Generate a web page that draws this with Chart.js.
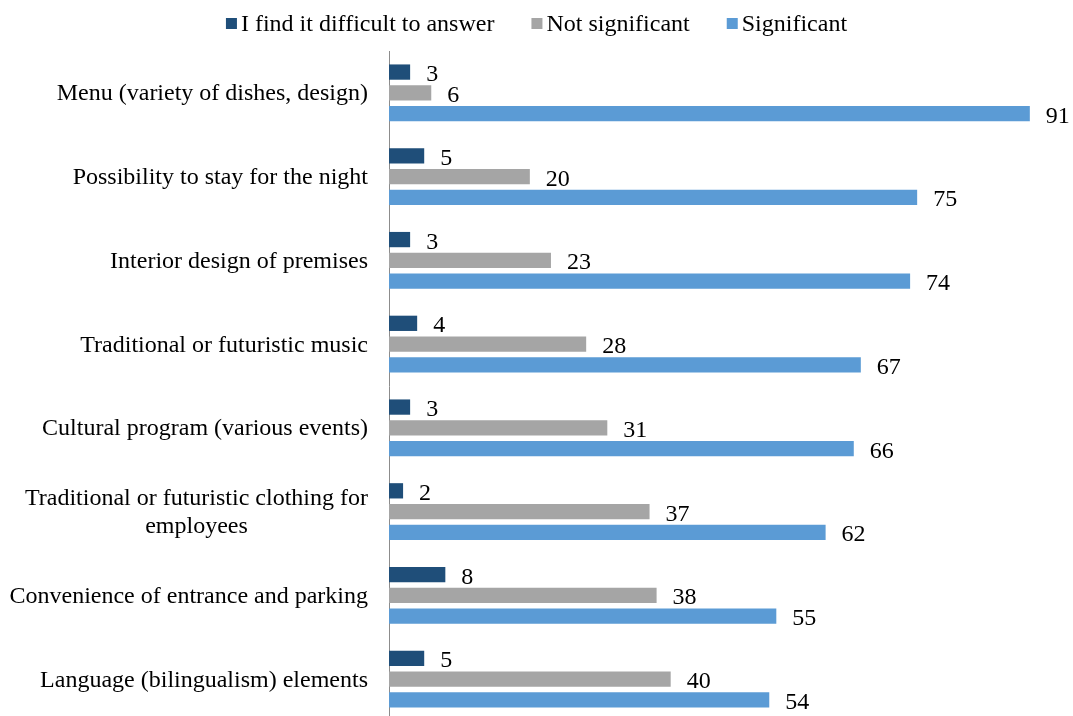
<!DOCTYPE html>
<html lang="en">
<head>
  <meta charset="UTF-8" />
  <title>Significance of restaurant features</title>
  <script src="https://cdn.jsdelivr.net/npm/chart.js"></script>
  <style>
    html, body { margin: 0; padding: 0; background: #fff; overflow: hidden; }
    .wrap { position: relative; width: 1073px; height: 722px; }
  </style>
</head>
<body>
  <div class="wrap"><canvas id="chart"></canvas></div>
  <script>
    const categories = [
      'Menu (variety of dishes, design)',
      'Possibility to stay for the night',
      'Interior design of premises',
      'Traditional or futuristic music',
      'Cultural program (various events)',
      ['Traditional or futuristic clothing for', 'employees'],
      'Convenience of entrance and parking',
      'Language (bilingualism) elements'
    ]
    const difficult = [3, 5, 3, 4, 3, 2, 8, 5]
    const notSignificant = [6, 20, 23, 28, 31, 37, 38, 40]
    const significant = [91, 75, 74, 67, 66, 62, 55, 54]
    const seriesNames = ['I find it difficult to answer', 'Not significant', 'Significant']
    const seriesColors = ['#1f4e79', '#a5a5a5', '#5b9bd5']

    const FONT = '"Liberation Serif", "Times New Roman", serif'

    // category names, right aligned against the axis; wrapped lines centred on each other
    const categoryLabels = {
      id: 'categoryLabels',
      afterDraw(chart) {
        const { ctx, chartArea } = chart
        const y = chart.scales.y
        ctx.save()
        ctx.font = '24px ' + FONT
        ctx.fillStyle = '#000'
        ctx.textAlign = 'center'
        ctx.textBaseline = 'alphabetic'
        categories.forEach((label, i) => {
          const lines = Array.isArray(label) ? label : [label]
          const cy = y.getPixelForValue(i)
          const widest = Math.max(...lines.map(l => ctx.measureText(l).width))
          const cx = chartArea.left - 21 - widest / 2
          lines.forEach((line, k) => {
            ctx.fillText(line, cx, cy + 7.5 + (k - (lines.length - 1) / 2) * 27.3)
          })
        })
        ctx.restore()
      }
    }

    // value printed just past the end of each bar
    const valueLabels = {
      id: 'valueLabels',
      afterDatasetsDraw(chart) {
        const { ctx } = chart
        ctx.save()
        ctx.font = '24px ' + FONT
        ctx.fillStyle = '#000'
        ctx.textAlign = 'left'
        ctx.textBaseline = 'alphabetic'
        chart.data.datasets.forEach((ds, di) => {
          chart.getDatasetMeta(di).data.forEach((bar, i) => {
            ctx.fillText(String(ds.data[i]), bar.x + 16, bar.y + 9)
          })
        })
        ctx.restore()
      }
    }

    // legend row across the top: small square, tight gap, then the name
    const topLegend = {
      id: 'topLegend',
      afterDraw(chart) {
        const { ctx } = chart
        ctx.save()
        ctx.font = '24px ' + FONT
        ctx.textAlign = 'left'
        ctx.textBaseline = 'alphabetic'
        const box = 11, gap = 4, spacing = 37
        const items = chart.data.datasets.map(ds => ({
          text: ds.label, color: ds.backgroundColor, w: ctx.measureText(ds.label).width
        }))
        const total = items.reduce((s, it) => s + box + gap + it.w, 0) + spacing * (items.length - 1)
        let x = (chart.width - total) / 2
        items.forEach(it => {
          ctx.fillStyle = it.color
          ctx.fillRect(x, 18, box, 11)
          ctx.fillStyle = '#000'
          ctx.fillText(it.text, x + box + gap, 31)
          x += box + gap + it.w + spacing
        })
        ctx.restore()
      }
    }

    new Chart(document.getElementById('chart'), {
      type: 'bar',
      data: {
        labels: categories,
        datasets: [
          { label: seriesNames[0], data: difficult, backgroundColor: seriesColors[0] },
          { label: seriesNames[1], data: notSignificant, backgroundColor: seriesColors[1] },
          { label: seriesNames[2], data: significant, backgroundColor: seriesColors[2] }
        ]
      },
      options: {
        indexAxis: 'y',
        responsive: true,
        maintainAspectRatio: false,
        animation: false,
        categoryPercentage: 0.745,
        barPercentage: 0.735,
        layout: { padding: { top: 51, right: 15, bottom: 1, left: 0 } },
        scales: {
          x: { display: false, min: 0, max: 95 },
          y: {
            ticks: { display: false },
            grid: { display: false, drawTicks: false },
            border: { display: true, color: '#8c8c8c', width: 1 },
            afterFit(scale) { scale.width = 389 }
          }
        },
        plugins: {
          legend: { display: false },
          tooltip: { enabled: false }
        }
      },
      plugins: [categoryLabels, valueLabels, topLegend]
    })
  </script>
</body>
</html>
